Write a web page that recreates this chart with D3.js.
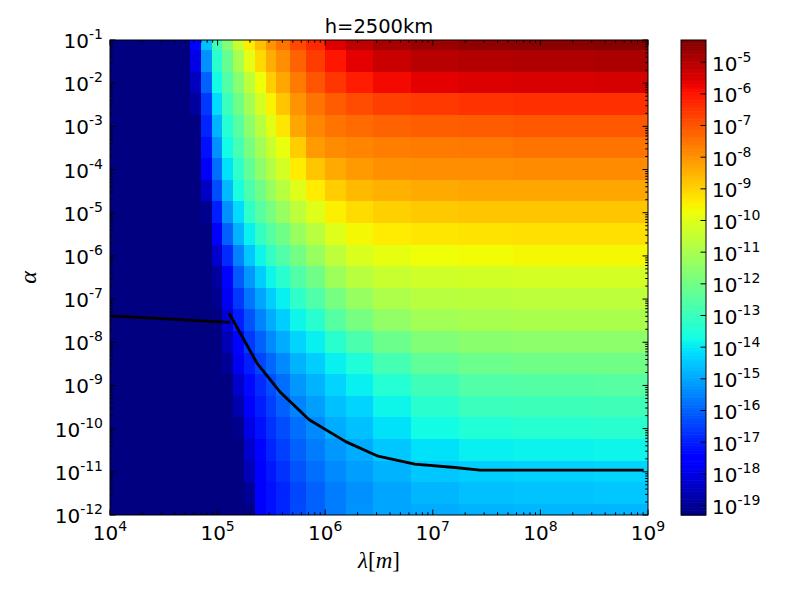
<!DOCTYPE html>
<html>
<head>
<meta charset="utf-8">
<script src="https://cdn.jsdelivr.net/npm/d3@7"></script>
<style>
body { margin: 0; background: #fff; }
svg text { font-family: "DejaVu Sans", sans-serif; fill: #000; }
</style>
</head>
<body>
<svg id="canvas" width="800" height="600"></svg>
<script>
"use strict";

// exponents of lambda [m] where the map was read (column centres)
var lambdaExp = [4.0, 4.5, 4.7, 4.8, 4.9, 5.0, 5.1, 5.2, 5.3, 5.4, 5.5, 5.6, 5.75, 5.9, 6.1, 6.3, 6.6, 7.0, 7.5, 8.0, 9.0];
// exponents of alpha (row centres), top row first
var alphaExp = [-1, -1.5, -2, -2.5, -3, -3.5, -4, -4.5, -5, -5.5, -6, -6.5, -7, -7.5, -8, -8.5, -9, -9.5, -10, -10.5, -11, -11.5, -12];
// log10 of the mapped quantity, one row per alphaExp
var fieldExp = [
    [-26, -22, -19.9, -17.4, -14.6, -12.9, -11.7, -10.4, -9.4, -8.7, -8.0, -7.5, -6.8, -6.3, -5.5, -5.1, -4.8, -4.65, -4.5, -4.45, -4.4],
    [-26, -22.5, -20.3, -18.0, -15.3, -13.3, -12.2, -11.0, -9.9, -9.1, -8.4, -7.9, -7.2, -6.6, -6.0, -5.6, -5.25, -5.05, -4.95, -4.9, -4.85],
    [-26, -23, -20.8, -18.5, -16.0, -13.7, -12.6, -11.6, -10.6, -9.7, -8.9, -8.3, -7.6, -7.0, -6.5, -6.1, -5.8, -5.6, -5.5, -5.45, -5.4],
    [-26, -23.5, -21.2, -18.9, -16.6, -14.2, -13.0, -12.0, -11.1, -10.2, -9.5, -8.8, -8.0, -7.5, -7.1, -6.85, -6.65, -6.55, -6.45, -6.4, -6.4],
    [-26, -24, -21.5, -19.5, -16.9, -14.8, -13.4, -12.5, -11.5, -10.7, -9.95, -9.3, -8.3, -7.8, -7.5, -7.35, -7.2, -7.15, -7.1, -7.05, -7.05],
    [-26, -24, -22, -20, -17.2, -15.3, -13.7, -12.8, -11.9, -11.1, -10.4, -9.8, -8.9, -8.1, -7.85, -7.75, -7.65, -7.6, -7.55, -7.5, -7.5],
    [-26, -24, -22, -20.3, -17.7, -15.8, -14.1, -13.2, -12.3, -11.5, -10.8, -10.2, -9.4, -8.8, -8.35, -8.1, -7.95, -7.9, -7.9, -7.85, -7.85],
    [-26, -24, -22.5, -20.8, -18.4, -16.3, -14.7, -13.6, -12.7, -12.0, -11.3, -10.7, -10.0, -9.4, -8.9, -8.6, -8.45, -8.35, -8.3, -8.3, -8.3],
    [-26, -24.5, -23, -21.2, -19.1, -17.0, -15.3, -14.2, -13.2, -12.5, -11.9, -11.3, -10.6, -10.0, -9.45, -9.15, -8.95, -8.85, -8.8, -8.8, -8.8],
    [-26, -24.5, -23, -21.6, -19.5, -17.7, -16.0, -14.8, -13.9, -13.1, -12.5, -12.0, -11.3, -10.7, -10.0, -9.6, -9.4, -9.3, -9.25, -9.2, -9.2],
    [-26, -25, -23.5, -22, -20, -18.3, -16.8, -15.5, -14.5, -13.8, -13.1, -12.6, -11.95, -11.3, -10.6, -10.1, -9.85, -9.7, -9.65, -9.6, -9.6],
    [-26, -25, -24, -22.3, -20.3, -18.9, -17.4, -16.1, -15.2, -14.4, -13.8, -13.3, -12.6, -12.0, -11.2, -10.7, -10.4, -10.3, -10.25, -10.2, -10.2],
    [-26, -25, -24, -22.5, -20.6, -19.1, -17.8, -16.6, -15.7, -15.0, -14.4, -13.9, -13.2, -12.6, -11.9, -11.3, -10.9, -10.7, -10.65, -10.6, -10.6],
    [-26, -25, -24, -22.8, -20.9, -19.4, -18.2, -17.0, -16.2, -15.5, -14.9, -14.4, -13.8, -13.3, -12.5, -11.9, -11.4, -11.1, -11.0, -10.95, -10.95],
    [-26, -25.5, -24.5, -23, -21.3, -19.8, -18.6, -17.4, -16.6, -16.0, -15.4, -14.9, -14.3, -13.9, -13.3, -12.7, -12.1, -11.7, -11.55, -11.5, -11.5],
    [-26, -25.5, -24.5, -23.3, -21.6, -20.2, -19.0, -17.8, -17.0, -16.4, -15.9, -15.4, -14.8, -14.4, -13.9, -13.5, -12.8, -12.3, -12.1, -12.0, -12.0],
    [-26, -26, -25, -23.6, -22, -20.6, -19.5, -18.3, -17.3, -16.8, -16.3, -15.8, -15.2, -14.8, -14.3, -13.9, -13.4, -12.9, -12.6, -12.55, -12.5],
    [-26, -26, -25, -24, -22.3, -21, -19.8, -18.7, -17.6, -17.0, -16.5, -16.0, -15.5, -15.1, -14.6, -14.3, -13.8, -13.3, -13.0, -12.95, -12.9],
    [-26, -26, -25.5, -24.2, -22.6, -21.3, -20.1, -19.1, -18.0, -17.2, -16.7, -16.3, -15.8, -15.4, -14.9, -14.6, -14.1, -13.7, -13.45, -13.35, -13.3],
    [-26, -26, -25.5, -24.4, -22.9, -21.6, -20.4, -19.5, -18.3, -17.4, -16.9, -16.5, -16.0, -15.6, -15.2, -14.9, -14.5, -14.1, -13.9, -13.85, -13.8],
    [-26, -26, -25.5, -24.6, -23.2, -21.9, -20.7, -19.8, -18.6, -17.5, -17.1, -16.7, -16.2, -15.8, -15.4, -15.1, -14.8, -14.5, -14.4, -14.35, -14.3],
    [-26, -26, -25.5, -24.8, -23.4, -22.1, -21.0, -20.0, -19.0, -17.6, -17.2, -16.9, -16.4, -16.0, -15.6, -15.3, -15.0, -14.75, -14.6, -14.55, -14.5],
    [-26, -26, -25.5, -25, -23.6, -22.3, -21.2, -20.2, -19.3, -17.7, -17.2, -16.9, -16.35, -16.0, -15.6, -15.25, -15.0, -14.9, -14.8, -14.75, -14.75]
];

// black limit curves
var leftLimitLambda = [1e4, 1.3e5];
var leftLimitAlpha = [4.1e-8, 2.9e-8];
var rightLimitLambda = [1.28e5, 2.34e5, 3.8e5, 7.1e5, 1.55e6, 3.1e6, 6.8e6, 1.6e7, 2.75e7, 9.1e8];
var rightLimitAlpha = [4.7e-8, 3.2e-9, 7.1e-10, 1.6e-10, 5.0e-11, 2.3e-11, 1.5e-11, 1.26e-11, 1.1e-11, 1.1e-11];

var xTickExp = [4, 5, 6, 7, 8, 9];
var yTickExp = [-12, -11, -10, -9, -8, -7, -6, -5, -4, -3, -2, -1];
var barTickExp = [-19, -18, -17, -16, -15, -14, -13, -12, -11, -10, -9, -8, -7, -6, -5];
var barRangeExp = [-19.3, -4.3];

var titleText = "h=2500km";

(function draw() {
    var LEFT = 110, RIGHT = 648, TOP = 40, BOTTOM = 515;
    var BAR_LEFT = 681, BAR_RIGHT = 706;
    var MAJOR = 5.5, MINOR = 2.8;

    var svg = d3.select(document.getElementById("canvas"));

    var x = d3.scaleLog().domain([1e4, 1e9]).range([LEFT, RIGHT]);
    var y = d3.scaleLog().domain([1e-12, 1e-1]).range([BOTTOM, TOP]);
    var barY = d3.scaleLinear().domain(barRangeExp).range([BOTTOM, TOP]);

    // matplotlib "jet"
    var jetRed = d3.scaleLinear().domain([0, 0.35, 0.66, 0.89, 1]).range([0, 0, 1, 1, 0.5]).clamp(true);
    var jetGreen = d3.scaleLinear().domain([0, 0.125, 0.375, 0.64, 0.91, 1]).range([0, 0, 1, 1, 0, 0]).clamp(true);
    var jetBlue = d3.scaleLinear().domain([0, 0.11, 0.34, 0.65, 1]).range([0.5, 1, 1, 0, 0]).clamp(true);
    var norm = d3.scaleLinear().domain(barRangeExp).range([0, 1]).clamp(true);
    function jet(v) {
        var t = norm(v);
        return d3.rgb(255 * jetRed(t), 255 * jetGreen(t), 255 * jetBlue(t)).toString();
    }

    // cell edges sit half way between read positions (in log space)
    function edges(exps, lo, hi) {
        var e = [lo];
        for (var i = 1; i < exps.length; i++) {
            e.push((exps[i - 1] + exps[i]) / 2);
        }
        e.push(hi);
        return e;
    }
    var lambdaEdge = edges(lambdaExp, 4, 9);
    var alphaEdge = edges(alphaExp, -1, -12);

    var cells = [];
    fieldExp.forEach(function(row, i) {
        row.forEach(function(v, j) {
            cells.push({ i: i, j: j, v: v });
        });
    });

    var map = svg.append("g");
    map.selectAll("rect")
        .data(cells)
        .enter().append("rect")
        .attr("x", function(d) { return Math.floor(x(Math.pow(10, lambdaEdge[d.j]))); })
        .attr("width", function(d) {
            return Math.ceil(x(Math.pow(10, lambdaEdge[d.j + 1]))) - Math.floor(x(Math.pow(10, lambdaEdge[d.j])));
        })
        .attr("y", function(d) { return Math.floor(y(Math.pow(10, alphaEdge[d.i]))); })
        .attr("height", function(d) {
            return Math.ceil(y(Math.pow(10, alphaEdge[d.i + 1]))) - Math.floor(y(Math.pow(10, alphaEdge[d.i])));
        })
        .attr("fill", function(d) { return jet(d.v); })
        .attr("shape-rendering", "crispEdges");

    // limit curves
    var line = d3.line()
        .x(function(d) { return x(d[0]); })
        .y(function(d) { return y(d[1]); });
    [d3.zip(leftLimitLambda, leftLimitAlpha), d3.zip(rightLimitLambda, rightLimitAlpha)].forEach(function(pts) {
        svg.append("path")
            .attr("d", line(pts))
            .attr("fill", "none")
            .attr("stroke", "#000")
            .attr("stroke-width", 2.8)
            .attr("stroke-linejoin", "round");
    });

    // ticks, inward on all four sides
    var ticks = svg.append("g").attr("stroke", "#000").attr("stroke-width", 1);
    function minorValues(lo, hi) {
        var out = [];
        for (var e = lo; e < hi; e++) {
            for (var k = 2; k <= 9; k++) out.push(k * Math.pow(10, e));
        }
        return out;
    }
    xTickExp.forEach(function(e) {
        var px = x(Math.pow(10, e));
        ticks.append("line").attr("x1", px).attr("x2", px).attr("y1", BOTTOM).attr("y2", BOTTOM - MAJOR);
        ticks.append("line").attr("x1", px).attr("x2", px).attr("y1", TOP).attr("y2", TOP + MAJOR);
    });
    minorValues(4, 9).forEach(function(v) {
        var px = x(v);
        ticks.append("line").attr("x1", px).attr("x2", px).attr("y1", BOTTOM).attr("y2", BOTTOM - MINOR);
        ticks.append("line").attr("x1", px).attr("x2", px).attr("y1", TOP).attr("y2", TOP + MINOR);
    });
    yTickExp.forEach(function(e) {
        var py = y(Math.pow(10, e));
        ticks.append("line").attr("x1", LEFT).attr("x2", LEFT + MAJOR).attr("y1", py).attr("y2", py);
        ticks.append("line").attr("x1", RIGHT).attr("x2", RIGHT - MAJOR).attr("y1", py).attr("y2", py);
    });
    minorValues(-12, -1).forEach(function(v) {
        var py = y(v);
        ticks.append("line").attr("x1", LEFT).attr("x2", LEFT + MINOR).attr("y1", py).attr("y2", py);
        ticks.append("line").attr("x1", RIGHT).attr("x2", RIGHT - MINOR).attr("y1", py).attr("y2", py);
    });

    svg.append("rect")
        .attr("x", LEFT).attr("y", TOP)
        .attr("width", RIGHT - LEFT).attr("height", BOTTOM - TOP)
        .attr("fill", "none").attr("stroke", "#000").attr("stroke-width", 1);

    // "10^e" labels
    function powerLabel(sel, e) {
        sel.append("tspan").text("10");
        sel.append("tspan").attr("dy", -9).attr("font-size", 14).text(String(e).replace("\u2212", "-"));
    }

    xTickExp.forEach(function(e) {
        var t = svg.append("text")
            .attr("x", x(Math.pow(10, e)))
            .attr("y", 540)
            .attr("font-size", 20)
            .attr("text-anchor", "middle");
        powerLabel(t, e);
    });
    yTickExp.forEach(function(e) {
        var t = svg.append("text")
            .attr("x", 103)
            .attr("y", y(Math.pow(10, e)) + 8)
            .attr("font-size", 20)
            .attr("text-anchor", "end");
        powerLabel(t, e);
    });

    // colour bar
    var steps = d3.range(0, 300);
    var stepH = (BOTTOM - TOP) / steps.length;
    svg.append("g").selectAll("rect")
        .data(steps)
        .enter().append("rect")
        .attr("x", BAR_LEFT)
        .attr("width", BAR_RIGHT - BAR_LEFT)
        .attr("y", function(s) { return BOTTOM - (s + 1) * stepH; })
        .attr("height", stepH + 0.6)
        .attr("fill", function(s) {
            return jet(barRangeExp[0] + (s + 0.5) / steps.length * (barRangeExp[1] - barRangeExp[0]));
        });
    barTickExp.forEach(function(e) {
        var py = barY(e);
        ticks.append("line").attr("x1", BAR_RIGHT).attr("x2", BAR_RIGHT - MAJOR).attr("y1", py).attr("y2", py);
        var t = svg.append("text")
            .attr("x", 712)
            .attr("y", py + 8.5)
            .attr("font-size", 20);
        powerLabel(t, e);
    });
    svg.append("rect")
        .attr("x", BAR_LEFT).attr("y", TOP)
        .attr("width", BAR_RIGHT - BAR_LEFT).attr("height", BOTTOM - TOP)
        .attr("fill", "none").attr("stroke", "#000").attr("stroke-width", 1);
    ticks.raise();

    // title and axis names
    svg.append("text")
        .attr("x", (LEFT + RIGHT) / 2)
        .attr("y", 32.5)
        .attr("font-size", 19.5)
        .attr("text-anchor", "middle")
        .text(titleText);

    var xName = svg.append("text")
        .attr("x", (LEFT + RIGHT) / 2)
        .attr("y", 568)
        .attr("font-size", 23)
        .attr("text-anchor", "middle")
        .style("font-family", "'Liberation Serif', serif");
    xName.append("tspan").attr("font-style", "italic").text("\u03bb");
    xName.append("tspan").text("[");
    xName.append("tspan").attr("font-style", "italic").text("m");
    xName.append("tspan").text("]");

    svg.append("text")
        .attr("transform", "translate(36," + ((TOP + BOTTOM) / 2) + ") rotate(-90)")
        .attr("font-size", 24)
        .attr("text-anchor", "middle")
        .attr("font-style", "italic")
        .style("font-family", "'Liberation Serif', serif")
        .text("\u03b1");
})();
</script>
</body>
</html>
